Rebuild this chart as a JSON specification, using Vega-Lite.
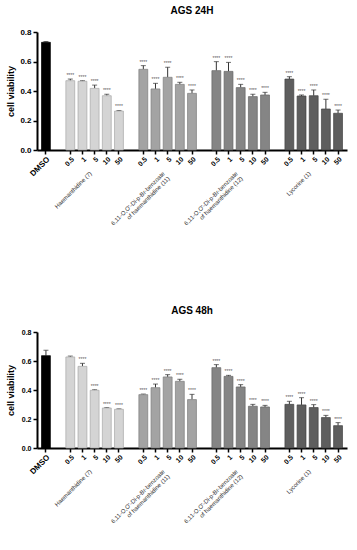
{
  "$schema": "https://vega.github.io/schema/vega-lite/v6.json",
  "padding": {"left": 6, "top": 6, "right": 4, "bottom": 0},
  "spacing": 75,
  "config": {
    "font": "Liberation Sans",
    "view": {"stroke": null},
    "axis": {"domainColor": "#000", "tickColor": "#000", "labelColor": "#000", "titleColor": "#000", "grid": false},
    "axisY": {"values": [0, 0.2, 0.4, 0.6, 0.8], "tickCount": 5, "format": ".1f", "labelOverlap": false, "labelFontWeight": "bold", "domainWidth": 2, "tickWidth": 1.5, "tickSize": 4, "titleFontSize": 9, "titleFontWeight": "bold", "labelPadding": 2},
    "title": {"font": "Liberation Sans", "fontSize": 10, "fontWeight": "bold", "color": "#000", "anchor": "middle"}
  },
  "datasets": {
    "d24": [
      {"bar": "DMSO", "compound": "DMSO", "viability": 0.730, "upper": 0.735, "sig": ""},
      {"bar": "H 0.5", "compound": "Haemanthidine (7)", "viability": 0.470, "upper": 0.481, "sig": "****"},
      {"bar": "H 1", "compound": "Haemanthidine (7)", "viability": 0.466, "upper": 0.470, "sig": "****"},
      {"bar": "H 5", "compound": "Haemanthidine (7)", "viability": 0.418, "upper": 0.440, "sig": "****"},
      {"bar": "H 10", "compound": "Haemanthidine (7)", "viability": 0.368, "upper": 0.378, "sig": "****"},
      {"bar": "H 50", "compound": "Haemanthidine (7)", "viability": 0.264, "upper": 0.268, "sig": "****"},
      {"bar": "C11 0.5", "compound": "6,11-O,O'-Di-p-Br-benzoate of haemanthidine (11)", "viability": 0.547, "upper": 0.572, "sig": "****"},
      {"bar": "C11 1", "compound": "6,11-O,O'-Di-p-Br-benzoate of haemanthidine (11)", "viability": 0.414, "upper": 0.452, "sig": "****"},
      {"bar": "C11 5", "compound": "6,11-O,O'-Di-p-Br-benzoate of haemanthidine (11)", "viability": 0.493, "upper": 0.561, "sig": "****"},
      {"bar": "C11 10", "compound": "6,11-O,O'-Di-p-Br-benzoate of haemanthidine (11)", "viability": 0.445, "upper": 0.459, "sig": "****"},
      {"bar": "C11 50", "compound": "6,11-O,O'-Di-p-Br-benzoate of haemanthidine (11)", "viability": 0.384, "upper": 0.407, "sig": "****"},
      {"bar": "C12 0.5", "compound": "6,11-O,O'-Di-p-Br-benzoate of haemanthidine (12)", "viability": 0.538, "upper": 0.599, "sig": "****"},
      {"bar": "C12 1", "compound": "6,11-O,O'-Di-p-Br-benzoate of haemanthidine (12)", "viability": 0.533, "upper": 0.594, "sig": "****"},
      {"bar": "C12 5", "compound": "6,11-O,O'-Di-p-Br-benzoate of haemanthidine (12)", "viability": 0.423, "upper": 0.445, "sig": "****"},
      {"bar": "C12 10", "compound": "6,11-O,O'-Di-p-Br-benzoate of haemanthidine (12)", "viability": 0.362, "upper": 0.378, "sig": "****"},
      {"bar": "C12 50", "compound": "6,11-O,O'-Di-p-Br-benzoate of haemanthidine (12)", "viability": 0.373, "upper": 0.391, "sig": "****"},
      {"bar": "L 0.5", "compound": "Lycorine (1)", "viability": 0.481, "upper": 0.497, "sig": "****"},
      {"bar": "L 1", "compound": "Lycorine (1)", "viability": 0.366, "upper": 0.373, "sig": "****"},
      {"bar": "L 5", "compound": "Lycorine (1)", "viability": 0.368, "upper": 0.407, "sig": "****"},
      {"bar": "L 10", "compound": "Lycorine (1)", "viability": 0.278, "upper": 0.344, "sig": "****"},
      {"bar": "L 50", "compound": "Lycorine (1)", "viability": 0.249, "upper": 0.271, "sig": "****"}
    ],
    "d48": [
      {"bar": "DMSO", "compound": "DMSO", "viability": 0.637, "upper": 0.674, "sig": ""},
      {"bar": "H 0.5", "compound": "Haemanthidine (7)", "viability": 0.628, "upper": 0.634, "sig": ""},
      {"bar": "H 1", "compound": "Haemanthidine (7)", "viability": 0.563, "upper": 0.584, "sig": "****"},
      {"bar": "H 5", "compound": "Haemanthidine (7)", "viability": 0.398, "upper": 0.402, "sig": "****"},
      {"bar": "H 10", "compound": "Haemanthidine (7)", "viability": 0.276, "upper": 0.279, "sig": "****"},
      {"bar": "H 50", "compound": "Haemanthidine (7)", "viability": 0.267, "upper": 0.270, "sig": "****"},
      {"bar": "C11 0.5", "compound": "6,11-O,O'-Di-p-Br-benzoate of haemanthidine (11)", "viability": 0.368, "upper": 0.372, "sig": "****"},
      {"bar": "C11 1", "compound": "6,11-O,O'-Di-p-Br-benzoate of haemanthidine (11)", "viability": 0.416, "upper": 0.441, "sig": "****"},
      {"bar": "C11 5", "compound": "6,11-O,O'-Di-p-Br-benzoate of haemanthidine (11)", "viability": 0.490, "upper": 0.506, "sig": "****"},
      {"bar": "C11 10", "compound": "6,11-O,O'-Di-p-Br-benzoate of haemanthidine (11)", "viability": 0.460, "upper": 0.474, "sig": "****"},
      {"bar": "C11 50", "compound": "6,11-O,O'-Di-p-Br-benzoate of haemanthidine (11)", "viability": 0.334, "upper": 0.370, "sig": "****"},
      {"bar": "C12 0.5", "compound": "6,11-O,O'-Di-p-Br-benzoate of haemanthidine (12)", "viability": 0.554, "upper": 0.575, "sig": "****"},
      {"bar": "C12 1", "compound": "6,11-O,O'-Di-p-Br-benzoate of haemanthidine (12)", "viability": 0.494, "upper": 0.501, "sig": "****"},
      {"bar": "C12 5", "compound": "6,11-O,O'-Di-p-Br-benzoate of haemanthidine (12)", "viability": 0.421, "upper": 0.437, "sig": "****"},
      {"bar": "C12 10", "compound": "6,11-O,O'-Di-p-Br-benzoate of haemanthidine (12)", "viability": 0.288, "upper": 0.301, "sig": "****"},
      {"bar": "C12 50", "compound": "6,11-O,O'-Di-p-Br-benzoate of haemanthidine (12)", "viability": 0.283, "upper": 0.294, "sig": "****"},
      {"bar": "L 0.5", "compound": "Lycorine (1)", "viability": 0.301, "upper": 0.322, "sig": "****"},
      {"bar": "L 1", "compound": "Lycorine (1)", "viability": 0.297, "upper": 0.347, "sig": "****"},
      {"bar": "L 5", "compound": "Lycorine (1)", "viability": 0.279, "upper": 0.299, "sig": "****"},
      {"bar": "L 10", "compound": "Lycorine (1)", "viability": 0.210, "upper": 0.225, "sig": "****"},
      {"bar": "L 50", "compound": "Lycorine (1)", "viability": 0.154, "upper": 0.175, "sig": "****"}
    ]
  },
  "vconcat": [
    {
      "title": {"text": "AGS 24H", "offset": 12},
      "width": 310,
      "height": 118,
      "data": {"name": "d24"},
      "resolve": {"axis": {"x": "independent"}},
      "layer": [
        {
          "mark": {"type": "rule", "color": "#333", "strokeWidth": 1},
          "encoding": {
            "x": {"field": "bar", "type": "nominal", "axis": null, "scale": {"domain": ["DMSO", "gap1", "H 0.5", "H 1", "H 5", "H 10", "H 50", "gap2", "C11 0.5", "C11 1", "C11 5", "C11 10", "C11 50", "gap3", "C12 0.5", "C12 1", "C12 5", "C12 10", "C12 50", "gap4", "L 0.5", "L 1", "L 5", "L 10", "L 50"], "paddingInner": 0.27, "paddingOuter": 0.37}},
            "y": {"field": "viability", "type": "quantitative", "title": "cell viability", "scale": {"domain": [0, 0.8]}, "axis": {"labelFontSize": 8, "titlePadding": 4}},
            "y2": {"field": "upper"}
          }
        },
        {
          "mark": {"type": "tick", "color": "#333", "thickness": 1, "size": 5},
          "encoding": {
            "x": {"field": "bar", "type": "nominal", "scale": {"domain": ["DMSO", "gap1", "H 0.5", "H 1", "H 5", "H 10", "H 50", "gap2", "C11 0.5", "C11 1", "C11 5", "C11 10", "C11 50", "gap3", "C12 0.5", "C12 1", "C12 5", "C12 10", "C12 50", "gap4", "L 0.5", "L 1", "L 5", "L 10", "L 50"], "paddingInner": 0.27, "paddingOuter": 0.37},
              "axis": {"orient": "bottom", "title": null, "values": ["H 5", "C11 5", "C12 5", "L 5"], "labelExpr": "datum.value == 'H 5' ? 'Haemanthidine (7)' : datum.value == 'C11 5' ? [\"6,11-O,O'-Di-p-Br-benzoate\", 'of haemanthidine (11)'] : datum.value == 'C12 5' ? [\"6,11-O,O'-Di-p-Br-benzoate\", 'of haemanthidine (12)'] : 'Lycorine (1)'", "labelAngle": -45, "labelAlign": "right", "labelBaseline": "top", "labelFontSize": 6, "labelColor": "#333", "domain": false, "ticks": false, "offset": 20, "labelPadding": 0, "labelOffset": -6, "labelOverlap": false, "labelBound": false, "labelLineHeight": 7}},
            "y": {"field": "upper", "type": "quantitative", "title": "cell viability", "scale": {"domain": [0, 0.8]}, "axis": {"labelFontSize": 8, "titlePadding": 4}}
          }
        },
        {
          "mark": {"type": "bar", "strokeWidth": 0.7},
          "encoding": {
            "x": {"field": "bar", "type": "nominal", "scale": {"domain": ["DMSO", "gap1", "H 0.5", "H 1", "H 5", "H 10", "H 50", "gap2", "C11 0.5", "C11 1", "C11 5", "C11 10", "C11 50", "gap3", "C12 0.5", "C12 1", "C12 5", "C12 10", "C12 50", "gap4", "L 0.5", "L 1", "L 5", "L 10", "L 50"], "paddingInner": 0.27, "paddingOuter": 0.37},
              "axis": {"orient": "bottom", "title": null, "values": ["DMSO", "H 0.5", "H 1", "H 5", "H 10", "H 50", "C11 0.5", "C11 1", "C11 5", "C11 10", "C11 50", "C12 0.5", "C12 1", "C12 5", "C12 10", "C12 50", "L 0.5", "L 1", "L 5", "L 10", "L 50"], "labelExpr": "datum.value == 'DMSO' ? 'DMSO' : split(datum.value, ' ')[1]", "labelAngle": -45, "labelAlign": "right", "labelBaseline": "top", "labelFontWeight": "bold", "labelFontSize": {"condition": {"test": "datum.value == 'DMSO'", "value": 8}, "value": 7}, "domainWidth": 2, "tickWidth": 1.5, "tickSize": 4, "labelPadding": 1, "labelOverlap": false}},
            "y": {"field": "viability", "type": "quantitative", "title": "cell viability", "scale": {"domain": [0, 0.8]}, "axis": {"labelFontSize": 8, "titlePadding": 4}},
            "color": {"field": "compound", "type": "nominal", "legend": null, "scale": {"domain": ["DMSO", "Haemanthidine (7)", "6,11-O,O'-Di-p-Br-benzoate of haemanthidine (11)", "6,11-O,O'-Di-p-Br-benzoate of haemanthidine (12)", "Lycorine (1)"], "range": ["#000000", "#d4d4d4", "#a3a3a3", "#858585", "#5e5e5e"]}},
            "stroke": {"field": "compound", "type": "nominal", "legend": null, "scale": {"domain": ["DMSO", "Haemanthidine (7)", "6,11-O,O'-Di-p-Br-benzoate of haemanthidine (11)", "6,11-O,O'-Di-p-Br-benzoate of haemanthidine (12)", "Lycorine (1)"], "range": ["#000000", "#a8a8a8", "#7d7d7d", "#666666", "#444444"]}}
          }
        },
        {
          "mark": {"type": "text", "fontSize": 5, "color": "#555", "baseline": "bottom", "dy": -1},
          "encoding": {
            "x": {"field": "bar", "type": "nominal", "axis": null, "scale": {"domain": ["DMSO", "gap1", "H 0.5", "H 1", "H 5", "H 10", "H 50", "gap2", "C11 0.5", "C11 1", "C11 5", "C11 10", "C11 50", "gap3", "C12 0.5", "C12 1", "C12 5", "C12 10", "C12 50", "gap4", "L 0.5", "L 1", "L 5", "L 10", "L 50"], "paddingInner": 0.27, "paddingOuter": 0.37}},
            "y": {"field": "upper", "type": "quantitative", "title": "cell viability", "scale": {"domain": [0, 0.8]}, "axis": {"labelFontSize": 8, "titlePadding": 4}},
            "text": {"field": "sig"}
          }
        }
      ]
    },
    {
      "title": {"text": "AGS 48h", "offset": 12},
      "width": 310,
      "height": 116,
      "data": {"name": "d48"},
      "resolve": {"axis": {"x": "independent"}},
      "layer": [
        {
          "mark": {"type": "rule", "color": "#333", "strokeWidth": 1},
          "encoding": {
            "x": {"field": "bar", "type": "nominal", "axis": null, "scale": {"domain": ["DMSO", "gap1", "H 0.5", "H 1", "H 5", "H 10", "H 50", "gap2", "C11 0.5", "C11 1", "C11 5", "C11 10", "C11 50", "gap3", "C12 0.5", "C12 1", "C12 5", "C12 10", "C12 50", "gap4", "L 0.5", "L 1", "L 5", "L 10", "L 50"], "paddingInner": 0.27, "paddingOuter": 0.37}},
            "y": {"field": "viability", "type": "quantitative", "title": "cell viability", "scale": {"domain": [0, 0.8]}, "axis": {"labelFontSize": 7, "titlePadding": 6}},
            "y2": {"field": "upper"}
          }
        },
        {
          "mark": {"type": "tick", "color": "#333", "thickness": 1, "size": 5},
          "encoding": {
            "x": {"field": "bar", "type": "nominal", "scale": {"domain": ["DMSO", "gap1", "H 0.5", "H 1", "H 5", "H 10", "H 50", "gap2", "C11 0.5", "C11 1", "C11 5", "C11 10", "C11 50", "gap3", "C12 0.5", "C12 1", "C12 5", "C12 10", "C12 50", "gap4", "L 0.5", "L 1", "L 5", "L 10", "L 50"], "paddingInner": 0.27, "paddingOuter": 0.37},
              "axis": {"orient": "bottom", "title": null, "values": ["H 5", "C11 5", "C12 5", "L 5"], "labelExpr": "datum.value == 'H 5' ? 'Haemanthidine (7)' : datum.value == 'C11 5' ? [\"6,11-O,O'-Di-p-Br-benzoate\", 'of haemanthidine (11)'] : datum.value == 'C12 5' ? [\"6,11-O,O'-Di-p-Br-benzoate\", 'of haemanthidine (12)'] : 'Lycorine (1)'", "labelAngle": -45, "labelAlign": "right", "labelBaseline": "top", "labelFontSize": 6, "labelColor": "#333", "domain": false, "ticks": false, "offset": 20, "labelPadding": 0, "labelOffset": -6, "labelOverlap": false, "labelBound": false, "labelLineHeight": 7}},
            "y": {"field": "upper", "type": "quantitative", "title": "cell viability", "scale": {"domain": [0, 0.8]}, "axis": {"labelFontSize": 7, "titlePadding": 6}}
          }
        },
        {
          "mark": {"type": "bar", "strokeWidth": 0.7},
          "encoding": {
            "x": {"field": "bar", "type": "nominal", "scale": {"domain": ["DMSO", "gap1", "H 0.5", "H 1", "H 5", "H 10", "H 50", "gap2", "C11 0.5", "C11 1", "C11 5", "C11 10", "C11 50", "gap3", "C12 0.5", "C12 1", "C12 5", "C12 10", "C12 50", "gap4", "L 0.5", "L 1", "L 5", "L 10", "L 50"], "paddingInner": 0.27, "paddingOuter": 0.37},
              "axis": {"orient": "bottom", "title": null, "values": ["DMSO", "H 0.5", "H 1", "H 5", "H 10", "H 50", "C11 0.5", "C11 1", "C11 5", "C11 10", "C11 50", "C12 0.5", "C12 1", "C12 5", "C12 10", "C12 50", "L 0.5", "L 1", "L 5", "L 10", "L 50"], "labelExpr": "datum.value == 'DMSO' ? 'DMSO' : split(datum.value, ' ')[1]", "labelAngle": -45, "labelAlign": "right", "labelBaseline": "top", "labelFontWeight": "bold", "labelFontSize": {"condition": {"test": "datum.value == 'DMSO'", "value": 8}, "value": 7}, "domainWidth": 2, "tickWidth": 1.5, "tickSize": 4, "labelPadding": 1, "labelOverlap": false}},
            "y": {"field": "viability", "type": "quantitative", "title": "cell viability", "scale": {"domain": [0, 0.8]}, "axis": {"labelFontSize": 7, "titlePadding": 6}},
            "color": {"field": "compound", "type": "nominal", "legend": null, "scale": {"domain": ["DMSO", "Haemanthidine (7)", "6,11-O,O'-Di-p-Br-benzoate of haemanthidine (11)", "6,11-O,O'-Di-p-Br-benzoate of haemanthidine (12)", "Lycorine (1)"], "range": ["#000000", "#d4d4d4", "#a3a3a3", "#858585", "#5e5e5e"]}},
            "stroke": {"field": "compound", "type": "nominal", "legend": null, "scale": {"domain": ["DMSO", "Haemanthidine (7)", "6,11-O,O'-Di-p-Br-benzoate of haemanthidine (11)", "6,11-O,O'-Di-p-Br-benzoate of haemanthidine (12)", "Lycorine (1)"], "range": ["#000000", "#a8a8a8", "#7d7d7d", "#666666", "#444444"]}}
          }
        },
        {
          "mark": {"type": "text", "fontSize": 5, "color": "#555", "baseline": "bottom", "dy": -1},
          "encoding": {
            "x": {"field": "bar", "type": "nominal", "axis": null, "scale": {"domain": ["DMSO", "gap1", "H 0.5", "H 1", "H 5", "H 10", "H 50", "gap2", "C11 0.5", "C11 1", "C11 5", "C11 10", "C11 50", "gap3", "C12 0.5", "C12 1", "C12 5", "C12 10", "C12 50", "gap4", "L 0.5", "L 1", "L 5", "L 10", "L 50"], "paddingInner": 0.27, "paddingOuter": 0.37}},
            "y": {"field": "upper", "type": "quantitative", "title": "cell viability", "scale": {"domain": [0, 0.8]}, "axis": {"labelFontSize": 7, "titlePadding": 6}},
            "text": {"field": "sig"}
          }
        }
      ]
    }
  ]
}
